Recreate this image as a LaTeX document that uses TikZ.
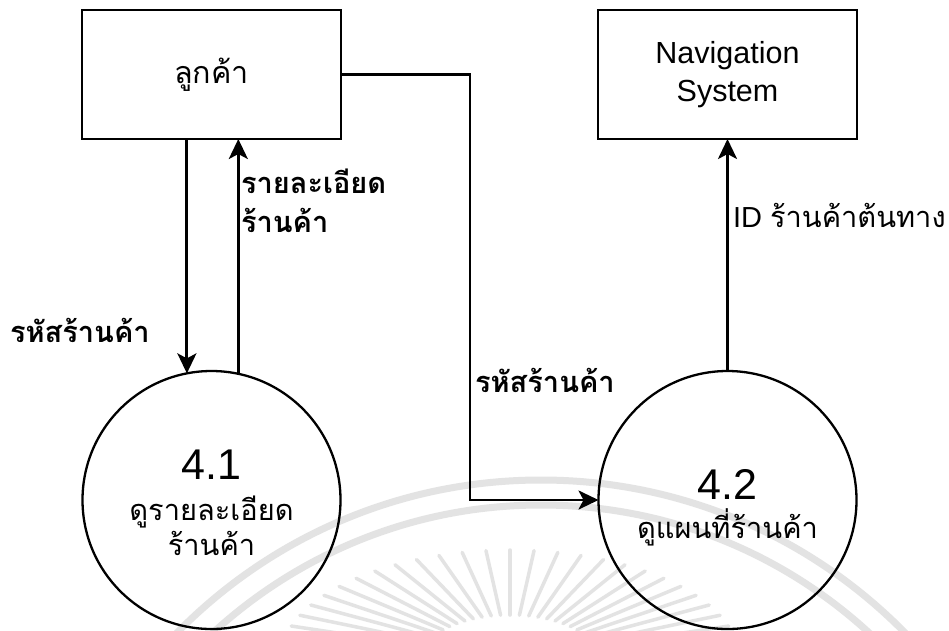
\documentclass[tikz,border=0pt]{standalone}
\usepackage{fontspec}
\setmainfont{Liberation Sans}
\newfontfamily\thai[Script=Thai]{Loma}
\usetikzlibrary{arrows.meta,calc}
\begin{document}
\begin{tikzpicture}[x=1pt,y=-1pt,
  every node/.style={inner sep=0pt, outer sep=0pt},
  entity/.style={draw, line width=2.6pt, minimum width=259pt, minimum height=129pt, align=center, font=\fontsize{30.5}{38}\selectfont},
  proc/.style={draw, circle, line width=2.3pt, minimum size=258pt, align=center, font=\fontsize{29}{35}\selectfont},
  flow/.style={line width=2.8pt, -{Stealth[length=20pt,width=19pt,inset=5pt]}},
  lbl/.style={anchor=base west, font=\thai\bfseries\fontsize{29}{39}\selectfont, align=left},
  lblr/.style={anchor=base west, font=\fontsize{29}{39}\selectfont},
  wm/.style={line width=7pt, gray!22},
  wmray/.style={line width=3.5pt, gray!22, line cap=round}]
\fill[white] (0,0) rectangle (949,630);
\useasboundingbox (0,0) rectangle (949,630);
% faint watermark
\begin{scope}
  \clip (0,0) rectangle (949,630);
  \draw[wm] (541,990) circle (510);
  \draw[wm] (541,990) circle (485);
  \foreach \a in {-162,-156,...,-18}
    \draw[wmray] ($(510,660)+(\a:90 and 45)$) -- ($(510,660)+(\a:230 and 110)$);
\end{scope}
% entities
\node[entity] (cust) at (211.5,74.5) {\thai ลูกค้า};
\node[entity] (nav) at (727.5,74.5) {Navigation\\System};
% processes
\node[proc] (p41) at (211.5,500) {\rule{0pt}{35pt}{\fontsize{43}{43}\selectfont 4.1}\\[6pt]{\thai ดูรายละเอียด}\\{\thai ร้านค้า}};
\node[proc] (p42) at (727.5,500) {\rule{0pt}{45pt}{\fontsize{43}{43}\selectfont 4.2}\\[4pt]{\thai ดูแผนที่ร้านค้า}};
% flows
\coordinate (d1) at (cust.south -| p41.101.4);
\coordinate (u1) at (cust.south -| p41.78.6);
\draw[flow] (d1) -- (p41.101.4);
\draw[flow] (p41.78.6) -- (u1);
\coordinate (bend) at (470,300);
\draw[flow] (cust.east) -| (bend) |- (p42.west);
\draw[flow] (p42.north) -- (nav.south);
% labels
\node[lbl] (l1) at (241,232) {รายละเอียด\\ร้านค้า};
\node[lbl] (l2) at (10,342) {รหัสร้านค้า};
\node[lbl] (l3) at (475,392) {รหัสร้านค้า};
\node[lblr] (l4) at (733,227) {ID {\thai ร้านค้าต้นทาง}};
\end{tikzpicture}
\end{document}
